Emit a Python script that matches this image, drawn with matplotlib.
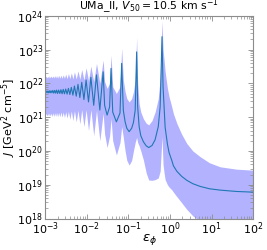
import numpy as np
import matplotlib
matplotlib.use('Agg')
from matplotlib import pyplot as plt

# values (log10 of eps_phi and of J)
log_eps = [-3.0,
           -2.974, -2.955, -2.937, -2.917, -2.898, -2.878, -2.858, -2.836,
           -2.815, -2.792, -2.77, -2.747, -2.725, -2.70, -2.675, -2.647,
           -2.62, -2.592, -2.565, -2.535, -2.505, -2.472, -2.44, -2.405,
           -2.37, -2.332, -2.295, -2.252, -2.21, -2.165, -2.12, -2.067,
           -2.015, -1.957, -1.90, -1.832, -1.765, -1.685,
           -1.605, -1.57, -1.51, -1.45,
           -1.415, -1.375, -1.287, -1.20,
           -1.16, -1.12, -1.077, -1.036, -0.98, -0.92, -0.877, -0.835,
           -0.80, -0.775, -0.74, -0.70, -0.637, -0.57, -0.51, -0.43, -0.356, -0.28, -0.235,
           -0.19, -0.165, -0.14, -0.115, -0.06, -0.02, 0.045, 0.084, 0.165, 0.28,
           0.406, 0.55, 0.726, 0.95, 1.207, 1.6, 2.0]

log_j_mid = [21.74,
             21.77, 21.72, 21.77, 21.72, 21.78, 21.72, 21.78, 21.72,
             21.79, 21.71, 21.79, 21.71, 21.80, 21.70, 21.80, 21.70,
             21.81, 21.69, 21.82, 21.69, 21.83, 21.68, 21.85, 21.67,
             21.88, 21.65, 21.92, 21.62, 21.97, 21.58, 22.03, 21.52,
             22.10, 21.45, 22.18, 21.35, 22.25, 21.21,
             22.34, 21.35, 21.06, 21.30,
             22.44, 21.15, 20.86, 21.12,
             22.59, 21.20, 20.86, 20.67, 20.57, 20.67, 20.84, 21.20,
             22.93, 21.30, 20.72, 20.45, 20.27, 20.15, 20.10, 20.16, 20.33, 20.72, 21.30,
             23.38, 21.90, 21.30, 20.70, 20.20, 19.95, 19.72, 19.56, 19.40, 19.25,
             19.13, 19.03, 18.95, 18.88, 18.84, 18.80, 18.78]

log_j_hi = [22.17,
            22.21, 22.16, 22.21, 22.16, 22.22, 22.16, 22.22, 22.16,
            22.22, 22.16, 22.23, 22.16, 22.23, 22.15, 22.24, 22.15,
            22.24, 22.15, 22.25, 22.15, 22.27, 22.14, 22.29, 22.14,
            22.31, 22.13, 22.34, 22.13, 22.37, 22.12, 22.41, 22.10,
            22.46, 22.08, 22.51, 22.05, 22.59, 22.00,
            22.69, 22.05, 21.85, 22.00,
            22.84, 21.90, 21.70, 21.90,
            23.04, 22.10, 21.75, 21.55, 21.45, 21.55, 21.75, 22.10,
            23.36, 22.00, 21.40, 21.15, 20.95, 20.82, 20.77, 20.90, 21.15, 21.55, 22.15,
            23.85, 23.00, 22.69, 22.35, 21.85, 21.60, 21.30, 21.10, 20.82, 20.50,
            20.22, 20.00, 19.83, 19.65, 19.53, 19.46, 19.43]

log_j_lo = [21.04,
            21.11, 21.03, 21.11, 21.03, 21.12, 21.03, 21.12, 21.02,
            21.13, 21.02, 21.13, 21.02, 21.14, 21.01, 21.14, 21.01,
            21.15, 21.00, 21.15, 20.99, 21.16, 20.97, 21.17, 20.94,
            21.18, 20.90, 21.19, 20.86, 21.20, 20.80, 21.22, 20.72,
            21.22, 20.60, 21.22, 20.45, 21.20, 20.30,
            21.12, 20.50, 20.10, 20.45,
            20.96, 20.30, 19.88, 20.25,
            20.72, 20.40, 20.00, 19.72, 19.58, 19.72, 20.00, 20.25,
            20.40, 20.25, 20.15, 20.00, 19.73, 19.35, 19.14, 19.13, 19.15, 19.20, 19.40,
            20.42, 19.60, 19.35, 19.15, 19.00, 18.93, 18.85, 18.78, 18.65, 18.47,
            18.27, 18.08, 17.92, 17.75, 17.62, 17.50, 17.40]

eps = 10 ** np.array(log_eps)
j_mid = 10 ** np.array(log_j_mid)
j_hi = 10 ** np.array(log_j_hi)
j_lo = 10 ** np.array(log_j_lo)

fig = plt.figure(figsize=(2.67, 2.5), dpi=100)
ax = fig.add_axes([0.169, 0.126, 0.779, 0.811])

ax.fill_between(eps, j_lo, j_hi, color='b', alpha=0.3, linewidth=0)
ax.plot(eps, j_mid, color='#1f77b4', linewidth=0.8)

ax.set_xscale('log')
ax.set_yscale('log')
ax.set_xlim(1e-3, 1e2)
ax.set_ylim(1e18, 1e24)

for s in ax.spines.values():
    s.set_color('0.55')
    s.set_linewidth(0.8)
ax.tick_params(which='both', direction='in', top=True, right=True, color='0.55',
               labelsize=8, pad=1.5)
ax.tick_params(which='major', length=3.5, width=0.6)
ax.tick_params(which='minor', length=2, width=0.5)

ax.set_title('UMa_II, $V_{50} = 10.5$ km s$^{-1}$', fontsize=7.8, pad=1)
ax.set_xlabel(r'$\varepsilon_\phi$', fontsize=9.5)
ax.set_ylabel(r'$J$ [GeV$^2$ cm$^{-5}$]', fontsize=8)
ax.xaxis.set_label_coords(0.5, -0.065)
ax.yaxis.set_label_coords(-0.13, 0.5)

fig.savefig('out.png', dpi=100)
